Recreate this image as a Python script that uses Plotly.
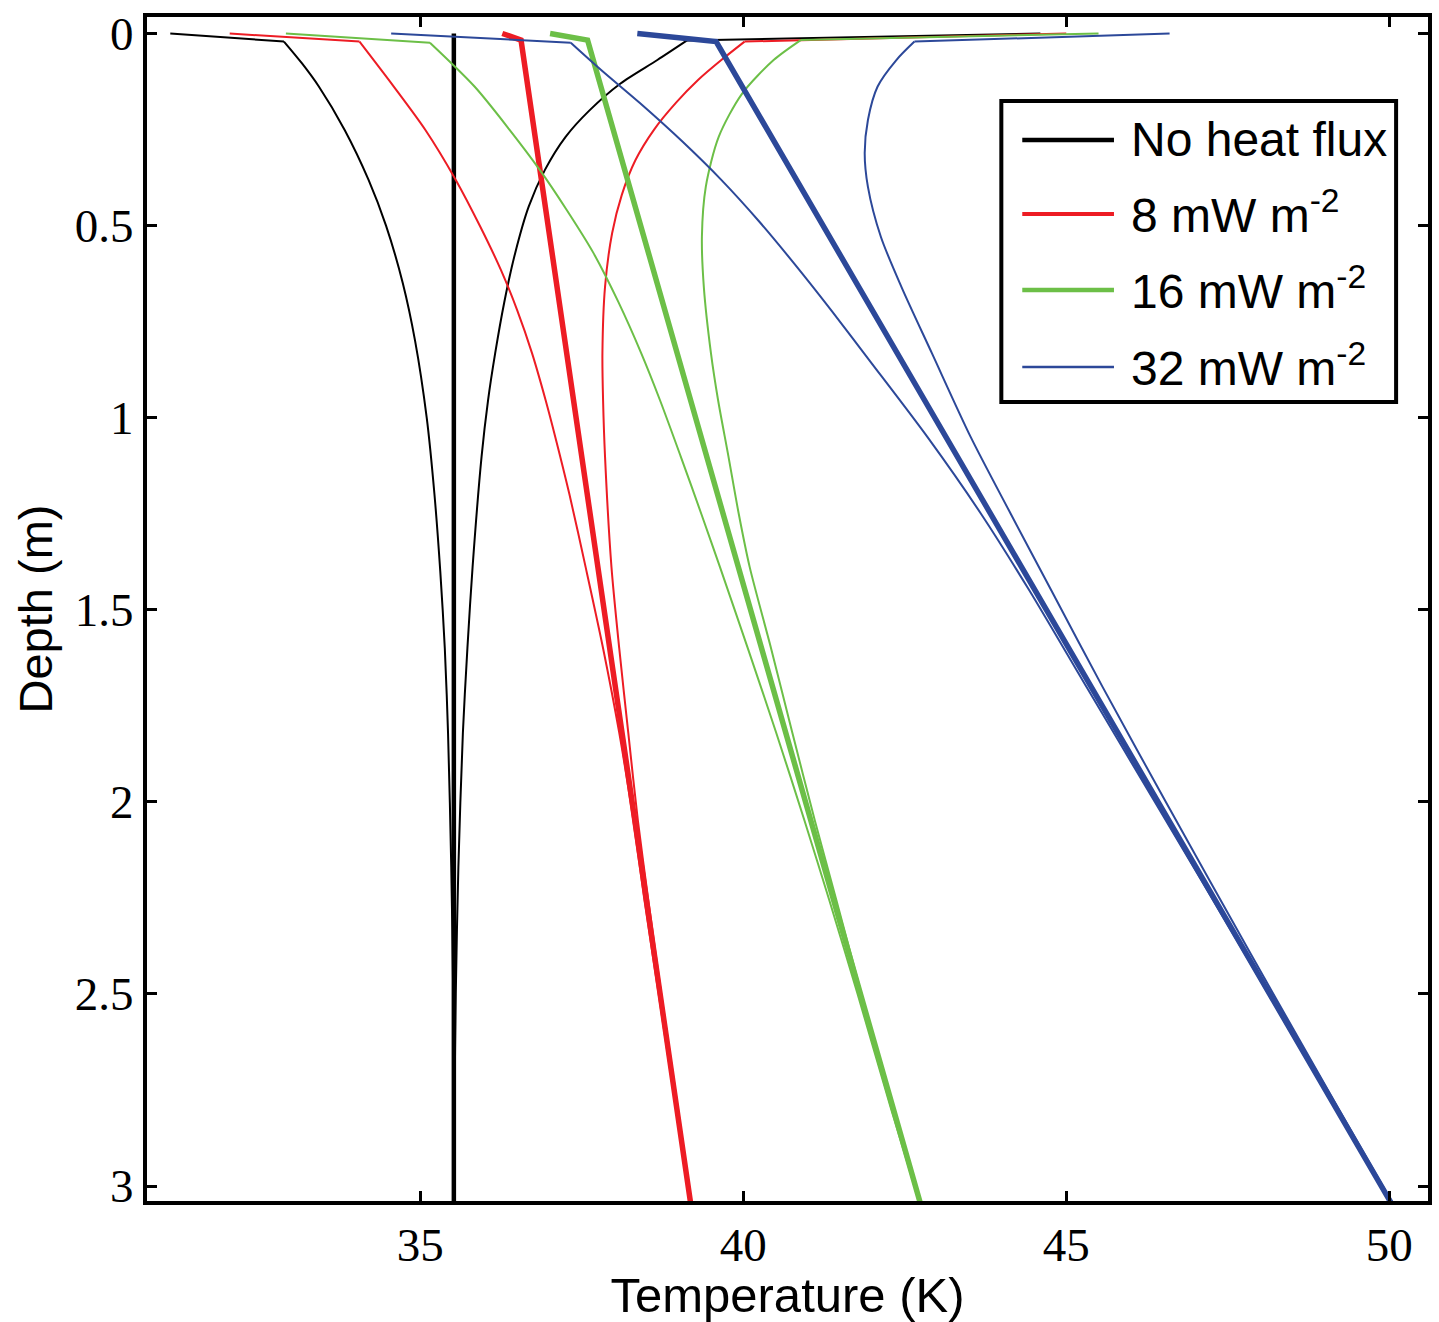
import plotly.graph_objects as go

# ---------------- data ----------------
# No heat flux
black_min_d = [0, 0.021, 0.078, 0.138, 0.251, 0.381, 0.5, 0.65, 0.8, 1.0, 1.2, 1.4, 1.6, 1.82, 2.17, 2.5, 2.8, 3.05]
black_min_T = [31.13, 32.89, 33.17, 33.43, 33.83, 34.20, 34.47, 34.73, 34.92, 35.10, 35.22, 35.31, 35.38, 35.43, 35.48, 35.51, 35.52, 35.52]
black_max_d = [0, 0.018, 0.069, 0.13, 0.2, 0.269, 0.355, 0.45, 0.571, 0.70, 0.832, 0.954, 1.1, 1.389, 1.6, 1.82, 2.17, 2.5, 2.8, 3.05]
black_max_T = [44.6, 39.13, 38.67, 38.10, 37.62, 37.25, 36.93, 36.68, 36.47, 36.30, 36.16, 36.05, 35.95, 35.81, 35.73, 35.66, 35.59, 35.55, 35.53, 35.52]
black_mean_d = [0, 3.05]
black_mean_T = [35.52, 35.52]

# 8 mW m-2
red_min_d = [0, 0.021, 0.138, 0.251, 0.381, 0.503, 0.616, 0.72, 0.832, 0.954, 1.05, 1.2, 1.389, 1.6, 1.82, 2.05, 2.255, 2.5, 2.8, 3.05]
red_min_T = [32.05, 34.06, 34.59, 35.08, 35.55, 35.93, 36.25, 36.50, 36.73, 36.94, 37.09, 37.31, 37.56, 37.83, 38.08, 38.30, 38.47, 38.69, 38.96, 39.19]
red_max_d = [0, 0.021, 0.069, 0.121, 0.18, 0.25, 0.33, 0.42, 0.52, 0.66, 0.832, 0.954, 1.1, 1.389, 1.6, 1.82, 2.05, 2.255, 2.5, 2.8, 3.05]
red_max_T = [45.0, 40.02, 39.66, 39.30, 38.96, 38.62, 38.33, 38.12, 37.97, 37.86, 37.82, 37.83, 37.86, 37.96, 38.08, 38.22, 38.37, 38.53, 38.73, 38.99, 39.20]
red_mean_d = [0, 0.017, 3.05]
red_mean_T = [36.27, 36.56, 39.19]

# 16 mW m-2
green_min_d = [0, 0.024, 0.138, 0.25, 0.355, 0.46, 0.571, 0.7, 0.832, 0.954, 1.1, 1.25, 1.389, 1.6, 1.82, 2.05, 2.255, 2.5, 2.8, 3.05]
green_min_T = [32.92, 35.15, 35.84, 36.38, 36.85, 37.27, 37.68, 38.07, 38.42, 38.71, 39.03, 39.35, 39.64, 40.07, 40.51, 40.95, 41.33, 41.77, 42.29, 42.74]
green_max_d = [0, 0.017, 0.069, 0.157, 0.269, 0.399, 0.529, 0.66, 0.832, 0.954, 1.1, 1.25, 1.389, 1.6, 1.82, 2.05, 2.255, 2.5, 2.8, 3.05]
green_max_T = [45.5, 40.89, 40.47, 39.98, 39.62, 39.42, 39.36, 39.39, 39.50, 39.61, 39.77, 39.93, 40.10, 40.43, 40.76, 41.11, 41.44, 41.83, 42.32, 42.76]
green_mean_d = [0, 0.017, 3.05]
green_mean_T = [37.01, 37.59, 42.75]

# 32 mW m-2
blue_min_d = [0, 0.024, 0.095, 0.181, 0.28, 0.381, 0.49, 0.597, 0.72, 0.85, 1.05, 1.25, 1.45, 1.7, 2.0, 2.4, 2.8, 3.05]
blue_min_T = [34.55, 37.33, 37.80, 38.40, 39.05, 39.66, 40.25, 40.78, 41.36, 41.95, 42.85, 43.68, 44.43, 45.31, 46.37, 47.78, 49.17, 50.04]
blue_max_d = [0, 0.021, 0.069, 0.138, 0.225, 0.311, 0.399, 0.529, 0.66, 0.832, 1.05, 1.25, 1.45, 1.7, 2.0, 2.4, 2.8, 3.05]
blue_max_T = [46.6, 42.65, 42.37, 42.08, 41.93, 41.88, 41.93, 42.13, 42.45, 42.92, 43.52, 44.14, 44.77, 45.56, 46.54, 47.87, 49.22, 50.07]
blue_mean_d = [0, 0.021, 3.05]
blue_mean_T = [38.36, 39.58, 50.05]

legend_labels = ["No heat flux", "8 mW m<sup>-2</sup>", "16 mW m<sup>-2</sup>", "32 mW m<sup>-2</sup>"]
x_ticks = [35, 40, 45, 50]
y_ticks = [0, 0.5, 1, 1.5, 2, 2.5, 3]
y_ticktext = ["0", "0.5", "1", "1.5", "2", "2.5", "3"]

# ---------------- styling ----------------
BLACK = "#000000"
RED = "#ed1c24"
GREEN = "#6cbf47"
BLUE = "#2c4899"
THIN = 2
THICK = 5.5
SANS = "Arial, Liberation Sans, sans-serif"
SERIF = "Liberation Serif, Times New Roman, serif"

W, H = 1439, 1322
ML, MR, MT, MB = 147, 7, 17, 121

fig = go.Figure()

series = [
    (BLACK, black_min_T, black_min_d, black_max_T, black_max_d, black_mean_T, black_mean_d, 4.5),
    (RED, red_min_T, red_min_d, red_max_T, red_max_d, red_mean_T, red_mean_d, THICK),
    (GREEN, green_min_T, green_min_d, green_max_T, green_max_d, green_mean_T, green_mean_d, THICK),
    (BLUE, blue_min_T, blue_min_d, blue_max_T, blue_max_d, blue_mean_T, blue_mean_d, THICK),
]


def add_envelope(t, d, col):
    # near-surface segment drawn straight, the profile below it smoothed
    fig.add_trace(go.Scatter(x=t[:2], y=d[:2], mode="lines", line=dict(color=col, width=THIN),
                             showlegend=False, hoverinfo="skip"))
    fig.add_trace(go.Scatter(x=t[1:], y=d[1:], mode="lines",
                             line=dict(color=col, width=THIN, shape="spline", smoothing=0.8),
                             showlegend=False, hoverinfo="skip"))


for col, tmin, dmin, tmax, dmax, tmean, dmean, tw in series:
    add_envelope(tmin, dmin, col)
    add_envelope(tmax, dmax, col)
    fig.add_trace(go.Scatter(x=tmean, y=dmean, mode="lines", line=dict(color=col, width=tw),
                             showlegend=False, hoverinfo="skip"))

# ---------------- manual legend (pixel -> paper) ----------------
PW = W - ML - MR
PH = H - MT - MB


def px(x):
    return (x - ML) / PW


def py(y):
    return (H - MB - y) / PH


shapes = [dict(type="rect", xref="paper", yref="paper",
               x0=px(1004), x1=px(1400), y0=py(402), y1=py(101),
               line=dict(color="black", width=4), fillcolor="white", layer="above")]
annotations = []
rows = [140, 214, 290, 367]
leg_cols = [BLACK, RED, GREEN, BLUE]
leg_w = [4.5, 4, 4.5, 2.5]
for lab, yy, c, lw in zip(legend_labels, rows, leg_cols, leg_w):
    shapes.append(dict(type="line", xref="paper", yref="paper",
                       x0=px(1025), x1=px(1117), y0=py(yy), y1=py(yy),
                       line=dict(color=c, width=lw), layer="above"))
    annotations.append(dict(xref="paper", yref="paper", x=px(1132), y=py(yy + (0 if "sup" not in lab else -2)),
                            xanchor="left", yanchor="middle", text=lab, showarrow=False,
                            font=dict(family=SANS, size=48, color="black")))

fig.update_layout(
    width=W, height=H,
    margin=dict(l=ML, r=MR, t=MT, b=MB),
    paper_bgcolor="white", plot_bgcolor="white",
    shapes=shapes, annotations=annotations,
    showlegend=False,
)
fig.update_xaxes(
    range=[30.77, 50.60], tickvals=x_ticks, ticks="inside", ticklen=10, tickwidth=3, tickcolor="black",
    showline=True, linewidth=4, linecolor="black", mirror="ticks", showgrid=False, zeroline=False,
    tickfont=dict(family=SERIF, size=47, color="black"),
    title=dict(text="Temperature (K)", font=dict(family=SANS, size=49, color="black"), standoff=4),
)
fig.update_yaxes(
    range=[3.039, -0.043], tickvals=y_ticks, ticktext=y_ticktext, ticks="inside", ticklen=10, tickwidth=3, tickcolor="black",
    showline=True, linewidth=4, linecolor="black", mirror="ticks", showgrid=False, zeroline=False,
    tickfont=dict(family=SERIF, size=47, color="black"),
    title=dict(text="Depth (m)", font=dict(family=SANS, size=47, color="black"), standoff=8),
)

fig.write_html("out.html", config={"displayModeBar": False},
               post_script="document.body.style.margin='0';document.body.style.overflow='hidden';")
